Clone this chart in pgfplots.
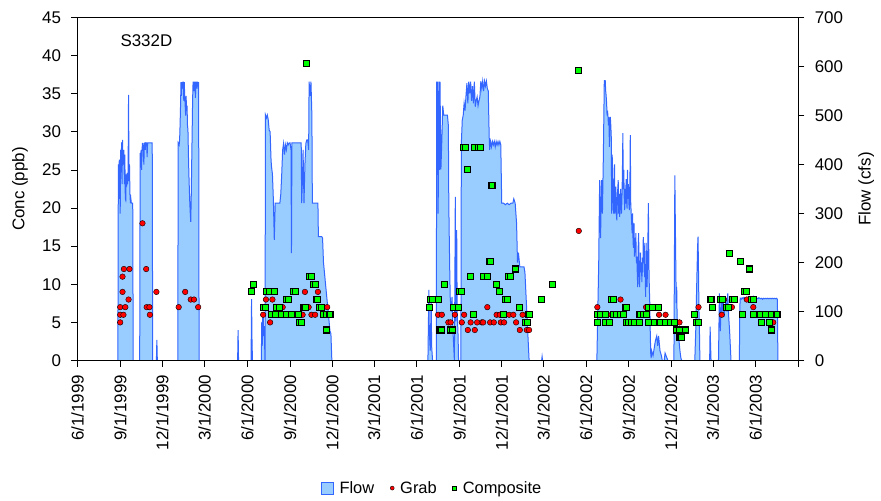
\documentclass[border=0pt]{standalone}
\usepackage{fontspec}
\setmainfont{Liberation Sans}
\usepackage{pgfplots}
\pgfplotsset{compat=1.18}
\usepackage{pgfplotstable}
\definecolor{flowfill}{HTML}{99CCFF}
\definecolor{flowline}{HTML}{3366FF}
\definecolor{grabred}{HTML}{FF0000}
\definecolor{compgreen}{HTML}{00FF00}

% day = days since 6/1/1999
\pgfplotstableread{
day cfs
0 0
87 0
88 400
89 330
90 410
91 380
92 300
93 430
94 390
95 445
96 360
97 450
98 400
99 416
100 430
101 360
102 420
103 330
104 327
105 380
106 355
107 383
108 360
109 383
110 542
111 366
112 400
113 340
114 321
115 330
116 321
117 321
118 321
119 321
120 0
134 0
135 423
136 410
137 430
138 389
139 430
140 443
141 443
142 420
143 400
144 443
145 444
146 430
147 444
148 444
149 444
150 415
151 444
152 444
153 444
154 444
155 444
156 444
157 444
158 444
159 444
160 444
161 444
162 0
170 0
171 42
172 0
216 0
217 444
219 440
220 450
221 480
222 520
223 568
224 540
225 568
226 555
227 568
228 568
229 530
230 568
231 540
232 520
233 500
234 540
235 510
236 520
237 480
238 470
239 420
240 380
241 350
242 320
243 300
244 283
245 330
246 400
247 464
248 531
249 568
250 568
251 550
252 568
253 568
254 536
255 568
256 568
257 555
258 568
259 568
260 560
261 568
262 0
345 0
346 62
347 0
374 0
375 125
376 40
377 0
396 0
397 79
398 30
399 85
400 96
401 50
402 70
403 40
404 0
405 501
407 495
409 501
411 491
413 470
415 467
417 409
418 396
420 380
421 355
422 328
424 246
426 321
428 321
430 321
432 321
434 321
436 321
438 340
440 380
442 430
444 443
446 420
448 440
450 430
452 444
454 440
456 444
458 444
460 430
461 219
462 444
464 444
466 444
468 444
470 444
472 444
474 444
476 444
478 444
480 444
482 444
483 321
485 380
486 430
488 321
490 400
492 443
494 450
496 450
498 430
499 569
501 540
503 569
505 500
506 321
508 321
510 321
512 321
514 321
516 321
518 321
519 253
521 253
523 253
526 253
528 250
530 200
532 180
535 150
538 120
540 100
542 80
544 60
546 55
548 0
755 0
757 144
758 60
760 20
762 123
763 30
765 0
773 0
774 569
775 400
776 569
777 300
779 569
780 389
781 569
783 390
785 450
787 520
789 501
791 501
793 501
795 501
797 501
799 480
800 321
801 250
802 185
803 130
805 100
807 130
809 60
811 20
812 0
813 150
814 334
815 80
817 266
818 100
820 50
821 0
826 0
827 443
829 491
831 500
833 525
835 510
837 540
839 566
841 525
843 569
845 545
847 569
849 530
851 560
853 525
855 569
857 518
859 530
861 538
863 520
865 530
867 538
869 570
871 555
873 570
875 550
877 570
879 560
881 570
883 555
885 550
887 457
888 430
890 447
892 436
894 447
896 440
898 447
900 436
902 447
904 440
906 447
908 440
910 447
912 440
914 321
918 321
922 318
926 321
930 318
934 321
938 321
940 330
943 321
946 280
948 200
950 220
953 191
956 191
959 191
962 191
964 180
967 120
970 60
973 0
1000 0
1001 8
1002 0
1119 0
1121 100
1123 200
1125 368
1127 250
1129 368
1131 300
1133 420
1135 572
1136 560
1137 572
1138 550
1139 540
1140 525
1141 500
1142 510
1143 497
1144 480
1145 497
1146 436
1147 490
1148 497
1149 480
1150 457
1151 300
1152 420
1153 380
1154 330
1155 300
1156 350
1157 400
1158 300
1159 340
1160 355
1161 300
1162 286
1163 320
1164 350
1165 368
1166 300
1167 340
1168 293
1169 310
1170 350
1171 330
1172 300
1173 330
1174 380
1175 464
1176 350
1177 389
1178 330
1179 307
1180 350
1181 320
1182 370
1183 340
1184 310
1185 389
1186 330
1187 360
1188 320
1189 307
1190 340
1191 460
1192 321
1193 300
1194 280
1195 260
1196 300
1197 240
1198 230
1199 280
1200 212
1201 250
1202 220
1203 260
1204 200
1205 212
1206 180
1207 150
1208 230
1209 260
1210 180
1211 150
1212 190
1213 220
1214 180
1215 200
1216 160
1217 210
1218 180
1219 252
1220 200
1221 240
1222 170
1223 190
1224 130
1225 240
1226 200
1227 150
1228 180
1229 250
1230 321
1231 200
1232 150
1233 117
1234 60
1235 15
1236 5
1237 20
1240 10
1245 40
1248 50
1250 30
1252 50
1255 20
1258 10
1260 0
1264 0
1266 15
1268 10
1272 0
1285 0
1287 378
1288 286
1289 200
1290 117
1291 150
1292 80
1294 60
1296 40
1298 20
1300 5
1302 0
1330 0
1332 60
1334 150
1336 232
1337 253
1338 180
1339 100
1340 60
1341 0
1362 0
1363 69
1364 30
1365 0
1381 0
1383 137
1385 60
1387 123
1389 100
1391 130
1393 89
1395 110
1397 120
1399 100
1401 137
1403 90
1405 60
1407 20
1408 0
1426 0
1427 110
1428 127
1430 125
1432 128
1434 126
1436 129
1438 127
1440 124
1442 127
1444 126
1446 130
1448 127
1450 129
1452 126
1454 128
1456 131
1458 127
1460 126
1462 128
1464 127
1466 126
1468 128
1470 127
1472 126
1474 127
1476 125
1478 127
1480 126
1482 127
1484 126
1486 127
1488 126
1490 127
1492 126
1494 127
1496 126
1498 127
1500 126
1502 127
1504 126
1506 127
1508 125
1509 0
1553 0
}\flowdata

\pgfplotstableread{
day conc
92 5
92 6
99 6
92 7
103 7
97 9
97 11
100 12
112 12
110 8
140 18
148 12
149 7
155 7
156 6
170 9
218 7
232 9
244 8
251 8
260 7
400 6
406 8
415 5
420 8
442 7
485 6
490 9
498 7
504 6
512 6
518 9
538 7
777 6
785 6
799 5
804 5
813 6
833 6
828 5
847 5
841 4
856 4
861 5
871 5
874 5
883 7
889 5
897 5
903 6
910 6
912 5
919 5
930 6
939 6
945 5
953 4
968 4
973 4
959 6
1080 17
1120 7
1142 6
1170 8
1225 7
1253 6
1267 6
1297 5
1338 7
1388 6
1393 8
1410 7
1442 8
1456 7
1499 5
}\grabdata

\pgfplotstableread{
day conc
375 9
380 10
400 7
406 7
408 9
413 9
425 9
418 6
426 6
440 6
451 6
462 6
476 6
429 7
435 7
451 8
455 8
465 9
469 9
479 5
482 5
488 7
491 7
494 39
500 11
505 11
508 10
512 10
515 8
518 8
522 7
525 7
530 6
537 6
544 6
537 4
758 7
760 8
764 8
777 8
790 10
781 4
785 4
803 4
807 4
824 9
828 9
810 7
820 7
831 28
835 28
841 25
856 28
864 28
869 28
846 11
854 6
874 11
883 11
887 13
890 13
893 23
903 10
910 9
917 6
923 8
926 8
928 11
932 11
944 12
952 7
966 5
969 5
971 6
974 6
1000 8
1024 10
1080 38
1120 5
1120 6
1126 6
1137 6
1137 5
1147 5
1151 8
1155 8
1155 6
1162 6
1169 6
1176 6
1180 7
1183 7
1183 5
1187 5
1194 5
1201 5
1210 5
1212 6
1219 6
1226 6
1230 7
1239 7
1251 7
1230 5
1244 5
1255 5
1266 5
1277 5
1287 5
1291 4
1297 4
1309 4
1298 3
1302 3
1330 6
1334 5
1338 5
1365 8
1368 7
1386 8
1390 8
1399 7
1402 7
1412 8
1415 8
1404 14
1429 13
1447 12
1433 6
1438 9
1442 9
1453 8
1456 8
1456 6
1471 6
1483 6
1496 6
1507 6
1474 5
1491 5
1496 4
}\compdata

\begin{document}
\begin{tikzpicture}
\useasboundingbox (-77.5bp,-140.5bp) rectangle (803.5bp,360.5bp);
% Flow (right axis), drawn first
\begin{axis}[
  scale only axis, width=720.8bp, height=343bp,
  at={(0bp,0bp)}, anchor=south west,
  xmin=0, xmax=1553, ymin=0, ymax=700,
  axis x line=none, axis y line*=right,
  ytick pos=right, yticklabel pos=right,
  ytick={0,100,200,300,400,500,600,700},
  tick align=outside, major tick length=6bp,
  every tick/.style={black, line width=0.8bp},
  axis line style={-, black, line width=0.8bp},
  tick label style={font=\fontsize{17}{19}\selectfont},
  yticklabel style={xshift=7bp},
  /pgf/number format/assume math mode=true,
  ylabel={Flow (cfs)},
  ylabel style={font=\fontsize{17}{19}\selectfont, at={(axis description cs:1.0943,0.5)}, anchor=center},
]
\addplot[draw=flowline, line width=1bp, fill=flowfill] table[x=day,y=cfs]{\flowdata} \closedcycle;
\end{axis}
% Concentrations (left axis)
\begin{axis}[
  scale only axis, width=720.8bp, height=343bp,
  at={(0bp,0bp)}, anchor=south west,
  xmin=0, xmax=1553, ymin=0, ymax=45,
  tick pos=left,
  ytick={0,5,10,15,20,25,30,35,40,45},
  xtick={0,92,183,274,366,458,549,639,731,823,914,1004,1096,1188,1279,1369,1461,1553},
  xticklabels={6/1/1999,9/1/1999,12/1/1999,3/1/2000,6/1/2000,9/1/2000,12/1/2000,3/1/2001,6/1/2001,9/1/2001,12/1/2001,3/1/2002,6/1/2002,9/1/2002,12/1/2002,3/1/2003,6/1/2003,{}},
  tick align=outside, major tick length=6bp,
  every tick/.style={black, line width=0.8bp},
  axis line style={black, line width=0.8bp},
  tick label style={font=\fontsize{17}{19}\selectfont},
  xticklabel style={yshift=-5bp, rotate=90, anchor=east},
  yticklabel style={xshift=-7bp},
  /pgf/number format/assume math mode=true,
  ylabel={Conc (ppb)},
  ylabel style={font=\fontsize{17}{19}\selectfont, at={(axis description cs:-0.0798,0.5)}, anchor=center},
  legend style={at={(axis description cs:0.492,-0.372)}, anchor=center, draw=none, fill=none,
    font=\fontsize{16.5}{18}\selectfont, legend columns=-1,
    /tikz/every odd column/.append style={column sep=4bp},
    /tikz/every even column/.append style={column sep=14bp}},
  legend image post style={mark size=2bp},
]
\addlegendimage{legend image code/.code={\draw[fill=flowfill,draw=flowline,line width=0.6bp] (0bp,-6bp) rectangle (12bp,6bp);}}
\addlegendentry{Flow}
\addplot[only marks, mark=*, mark size=2.8bp, mark options={fill=grabred, draw=black, line width=0.4bp}] table[x=day,y=conc]{\grabdata};
\addlegendentry{Grab}
\addplot[only marks, mark=square*, mark size=3bp, mark options={fill=compgreen, draw=black, line width=1.1bp}] table[x=day,y=conc]{\compdata};
\addlegendentry{Composite}
\node[anchor=west, font=\fontsize{17}{19}\selectfont] at (axis description cs:0.0548,0.933) {S332D};
\end{axis}
\end{tikzpicture}
\end{document}
